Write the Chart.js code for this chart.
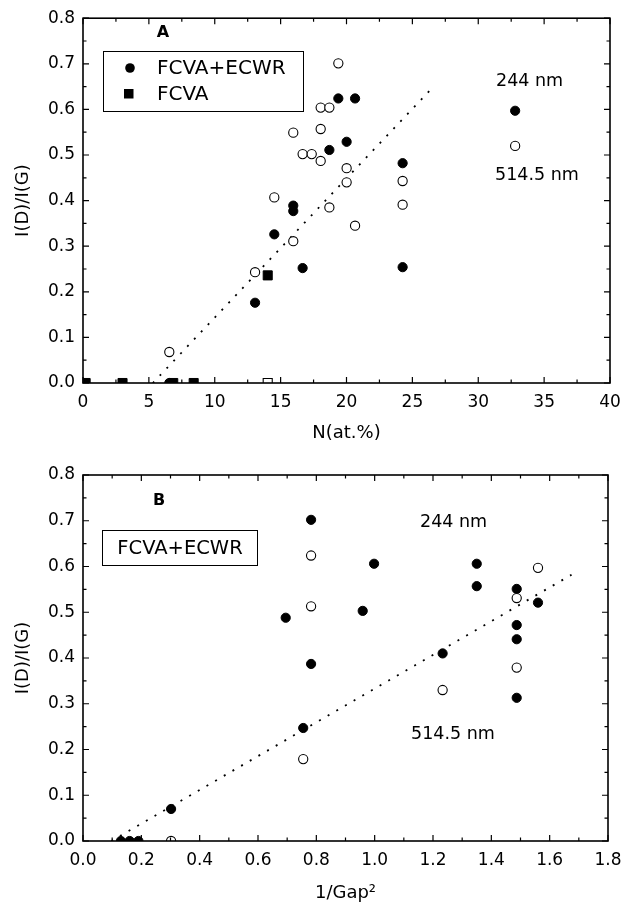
<!DOCTYPE html>
<html>
<head>
<meta charset="utf-8">
<script src="https://cdn.jsdelivr.net/npm/chart.js@4.4.0/dist/chart.umd.min.js"></script>
<style>
  html, body { margin: 0; padding: 0; background: #fff; }
  #wrap { position: relative; width: 631px; height: 909px; }
  .box { position: absolute; left: 0; width: 631px; height: 454px; }
</style>
</head>
<body>
<div id="wrap">
  <div class="box" style="top:0"><canvas id="chartA"></canvas></div>
  <div class="box" style="top:455px"><canvas id="chartB"></canvas></div>
</div>
<script>
// ---- Panel A : I(D)/I(G) vs N (at.%) ----
const nEcwr244 = [6.55, 13.06, 14.52, 15.96, 15.96, 16.67, 18.7, 19.38, 20.01, 20.65, 24.26, 24.26];
const rEcwr244 = [0, 0.176, 0.326, 0.389, 0.377, 0.252, 0.511, 0.624, 0.529, 0.624, 0.482, 0.254];
const nEcwr514 = [6.55, 13.06, 14.52, 15.96, 15.96, 16.67, 17.36, 18.04, 18.04, 18.04, 18.7, 18.7, 19.38, 20.01, 20.01, 20.65, 24.26, 24.26];
const rEcwr514 = [0.068, 0.243, 0.407, 0.311, 0.549, 0.502, 0.502, 0.604, 0.557, 0.487, 0.604, 0.385, 0.701, 0.471, 0.44, 0.345, 0.443, 0.391];
const nFcva244 = [0.2, 3.0, 6.85, 8.4, 14.02];
const rFcva244 = [0, 0, 0, 0, 0.236];
const nFcva514 = [14.02];
const rFcva514 = [0];
const fitAx = [5.3, 26.4];
const fitAy = [0, 0.644];
const keyAx = [32.8];
const keyA244 = [0.597];
const keyA514 = [0.52];

// ---- Panel B : I(D)/I(G) vs 1/Gap^2 ----
const gEcwr244 = [0.13, 0.16, 0.19, 0.302, 0.695, 0.755, 0.782, 0.782, 0.959, 0.998, 1.233, 1.35, 1.35, 1.487, 1.487, 1.487, 1.487, 1.56];
const rEcwrB244 = [0, 0, 0, 0.07, 0.488, 0.247, 0.702, 0.387, 0.503, 0.606, 0.41, 0.606, 0.557, 0.551, 0.472, 0.441, 0.313, 0.521];
const gEcwr514 = [0.302, 0.755, 0.782, 0.782, 1.233, 1.487, 1.487, 1.56];
const rEcwrB514 = [0, 0.179, 0.624, 0.513, 0.33, 0.531, 0.379, 0.597];
const fitBx = [0.097, 1.675];
const fitBy = [0, 0.582];

const FONT = "'DejaVu Sans', Arial, sans-serif";

function pts(xs, ys) {
  return xs.map((x, i) => ({ x: x, y: ys[i] }));
}

function filled(data, style) {
  return { data: data, showLine: false, pointStyle: style || "circle",
    pointRadius: style === "rect" ? 6.4 : 4.6, pointHoverRadius: 0,
    pointBackgroundColor: "#000", pointBorderColor: "#000", pointBorderWidth: 1 };
}
function open(data, style) {
  return { data: data, showLine: false, pointStyle: style || "circle",
    pointRadius: style === "rect" ? 6.4 : 4.6, pointHoverRadius: 0,
    pointBackgroundColor: "#fff", pointBorderColor: "#000", pointBorderWidth: 1.1 };
}
function dotted(data) {
  return { data: data, showLine: true, pointRadius: 0, borderColor: "#000",
    borderWidth: 1.8, borderDash: [2, 8], fill: false };
}

// markers sitting on the axis are cut in half, like the original
const clipArea = {
  id: "clipArea",
  beforeDatasetsDraw(chart) {
    const a = chart.chartArea;
    chart.ctx.save();
    chart.ctx.beginPath();
    chart.ctx.rect(a.left, a.top, a.right - a.left, a.bottom - a.top);
    chart.ctx.clip();
  },
  afterDatasetsDraw(chart) {
    chart.ctx.restore();
  }
};

// frame + inward major/minor ticks on all four sides
function frameTicks(xStep, yStep) {
  return {
    id: "frameTicks",
    afterDraw(chart) {
      const { ctx, chartArea: a, scales: { x, y } } = chart;
      ctx.save();
      ctx.strokeStyle = "#000";
      ctx.lineWidth = 1.6;
      ctx.strokeRect(a.left, a.top, a.right - a.left, a.bottom - a.top);
      ctx.lineWidth = 1.2;
      ctx.beginPath();
      for (let k = 0; x.min + k * xStep / 2 <= x.max + 1e-9; k++) {
        const px = x.getPixelForValue(x.min + k * xStep / 2);
        const len = k % 2 === 0 ? 6 : 3.5;
        ctx.moveTo(px, a.bottom); ctx.lineTo(px, a.bottom - len);
        ctx.moveTo(px, a.top); ctx.lineTo(px, a.top + len);
      }
      for (let k = 0; y.min + k * yStep / 2 <= y.max + 1e-9; k++) {
        const py = y.getPixelForValue(y.min + k * yStep / 2);
        const len = k % 2 === 0 ? 6 : 3.5;
        ctx.moveTo(a.left, py); ctx.lineTo(a.left + len, py);
        ctx.moveTo(a.right, py); ctx.lineTo(a.right - len, py);
      }
      ctx.stroke();
      ctx.restore();
    }
  };
}

function text(ctx, s, x, y, size, align, bold) {
  ctx.font = (bold ? "bold " : "") + size + "px " + FONT;
  ctx.textAlign = align || "left";
  ctx.textBaseline = "middle";
  ctx.fillStyle = "#000";
  ctx.fillText(s, x, y);
}

const notesA = {
  id: "notesA",
  afterDraw(chart) {
    const ctx = chart.ctx;
    ctx.save();
    text(ctx, "A", 163, 33, 16, "center", true);
    ctx.strokeStyle = "#000";
    ctx.lineWidth = 1;
    ctx.strokeRect(103.5, 51.5, 200, 60);
    ctx.fillStyle = "#000";
    ctx.beginPath(); ctx.arc(130, 68, 4.8, 0, Math.PI * 2); ctx.fill();
    ctx.fillRect(124, 89, 9.5, 9.5);
    text(ctx, "FCVA+ECWR", 157, 69, 20);
    text(ctx, "FCVA", 157, 95, 20);
    text(ctx, "244 nm", 496, 81, 17.5);
    text(ctx, "514.5 nm", 495, 175, 17.5);
    ctx.restore();
  }
};

const notesB = {
  id: "notesB",
  afterDraw(chart) {
    const ctx = chart.ctx;
    ctx.save();
    text(ctx, "B", 159, 46, 16, "center", true);
    ctx.strokeStyle = "#000";
    ctx.lineWidth = 1;
    ctx.strokeRect(102.5, 75.5, 155, 35);
    text(ctx, "FCVA+ECWR", 180, 94, 19.5, "center");
    text(ctx, "244 nm", 420, 67, 17.5);
    text(ctx, "514.5 nm", 411, 279, 17.5);
    ctx.restore();
  }
};

function axes(xMin, xMax, xStep, xDigits, xTitle, yWidth, xHeight) {
  const tickFont = { family: FONT, size: 17 };
  const titleFont = { family: FONT, size: 18 };
  return {
    x: {
      type: "linear", min: xMin, max: xMax,
      afterFit: (s) => { s.height = xHeight; },
      grid: { display: false, drawTicks: false },
      border: { display: false },
      ticks: { stepSize: xStep, padding: 9, color: "#000", font: tickFont,
        maxRotation: 0, autoSkip: false,
        callback: (v) => v.toFixed(xDigits) },
      title: { display: true, text: xTitle, color: "#000", font: titleFont, padding: 0 }
    },
    y: {
      type: "linear", min: 0, max: 0.8,
      afterFit: (s) => { s.width = yWidth; },
      grid: { display: false, drawTicks: false },
      border: { display: false },
      ticks: { stepSize: 0.1, padding: 8, color: "#000", font: tickFont,
        callback: (v) => v.toFixed(1) },
      title: { display: true, text: "I(D)/I(G)", color: "#000", font: titleFont,
        padding: { top: 13, bottom: 0 } }
    }
  };
}

const baseOpts = {
  responsive: true,
  maintainAspectRatio: false,
  animation: false,
  events: [],
  plugins: { legend: { display: false }, tooltip: { enabled: false } }
};

new Chart(document.getElementById("chartA").getContext("2d"), {
  type: "scatter",
  data: {
    datasets: [
      open(pts(nEcwr514, rEcwr514)),
      open(pts(nFcva514, rFcva514), "rect"),
      filled(pts(nEcwr244, rEcwr244)),
      filled(pts(nFcva244, rFcva244), "rect"),
      filled(pts(keyAx, keyA244)),
      open(pts(keyAx, keyA514)),
      dotted(pts(fitAx, fitAy))
    ]
  },
  options: Object.assign({}, baseOpts, {
    layout: { padding: { top: 17, right: 21, bottom: 10, left: 0 } },
    scales: axes(0, 40, 5, 0, "N(at.%)", 83, 61)
  }),
  plugins: [clipArea, frameTicks(5, 0.1), notesA]
});

new Chart(document.getElementById("chartB").getContext("2d"), {
  type: "scatter",
  data: {
    datasets: [
      open(pts(gEcwr514, rEcwrB514)),
      filled(pts(gEcwr244, rEcwrB244)),
      dotted(pts(fitBx, fitBy))
    ]
  },
  options: Object.assign({}, baseOpts, {
    layout: { padding: { top: 20, right: 23, bottom: 5, left: 0 } },
    scales: axes(0, 1.8, 0.2, 1, "1/Gap\u00B2", 83, 63)
  }),
  plugins: [clipArea, frameTicks(0.2, 0.1), notesB]
});
</script>
</body>
</html>
